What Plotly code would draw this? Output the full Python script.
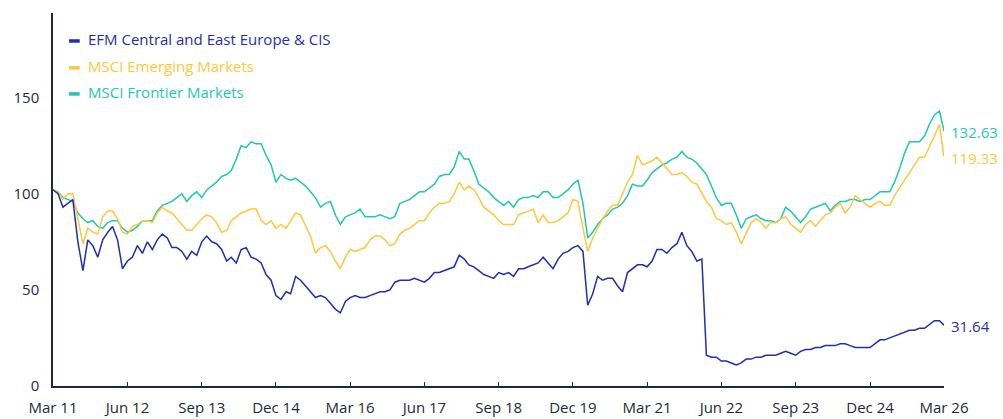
import pandas as pd
import plotly.graph_objects as go

start = "2011-03-01"
n_months = 181
dates = pd.date_range(start, periods=n_months, freq="MS")

efm = [102, 100, 93, 95, 97, 75, 60, 76, 73, 67, 76, 80, 83, 76, 61, 65, 67, 73, 69, 75,
       71, 76, 79, 77, 72, 72, 70, 66, 70, 68, 75, 78, 75, 74, 71, 65, 67, 64, 71, 72,
       67, 66, 64, 58, 55, 47, 45, 49, 48, 57, 55, 52, 49, 46, 47, 46, 43, 40, 38, 44,
       46, 47, 46, 46, 47, 48, 49, 49, 50, 54, 55, 55, 55, 56, 55, 54, 56, 59, 59, 60,
       61, 62, 68, 66, 63, 62, 60, 58, 57, 56, 59, 58, 59, 57, 61, 61, 62, 63, 64, 67,
       64, 61, 66, 69, 70, 72, 73, 70, 42, 48, 57, 55, 56, 56, 52, 49, 59, 61, 63, 63,
       62, 65, 71, 71, 69, 72, 74, 80, 73, 70, 65, 66, 16, 15, 15, 13, 13, 12, 11, 12,
       14, 14, 15, 15, 16, 16, 16, 17, 18, 17, 16, 18, 19, 19, 20, 20, 21, 21, 21, 22,
       22, 21, 20, 20, 20, 20, 22, 24, 24, 25, 26, 27, 28, 29, 29, 30, 30, 32, 34, 34,
       31.64]

msci_em = [102, 101, 97, 100, 100, 86, 74, 82, 80, 79, 88, 91, 91, 87, 80, 79, 83, 84, 86, 86,
           85, 90, 93, 91, 90, 87, 84, 81, 81, 84, 87, 89, 88, 85, 80, 81, 86, 88, 90, 91,
           92, 92, 86, 84, 86, 82, 84, 82, 86, 90, 89, 83, 78, 69, 72, 73, 70, 65, 61, 67,
           71, 70, 71, 72, 76, 78, 78, 76, 73, 74, 79, 81, 82, 84, 86, 86, 90, 93, 95, 95,
           96, 100, 106, 102, 104, 102, 98, 93, 91, 89, 86, 84, 84, 84, 89, 90, 91, 92, 85, 89,
           85, 85, 86, 88, 90, 97, 96, 82, 70, 77, 82, 87, 91, 94, 94, 100, 106, 110, 120, 115,
           116, 117, 119, 116, 113, 110, 110, 111, 109, 106, 105, 100, 96, 93, 87, 86, 84, 85, 80, 74,
           80, 85, 87, 85, 82, 85, 85, 87, 88, 84, 82, 80, 84, 86, 83, 86, 89, 90, 93, 95,
           90, 93, 99, 97, 95, 93, 95, 96, 94, 94, 99, 103, 107, 111, 115, 119, 119, 124, 130, 136,
           119.33]

msci_fm = [102, 101, 98, 97, 96, 90, 87, 85, 86, 83, 82, 85, 86, 86, 82, 80, 81, 83, 86, 86,
           86, 91, 94, 95, 96, 98, 100, 96, 99, 101, 98, 102, 104, 106, 109, 110, 112, 118, 125, 124,
           127, 126, 126, 120, 115, 106, 110, 108, 107, 108, 106, 104, 101, 98, 93, 95, 96, 89, 84, 88,
           89, 90, 92, 88, 88, 88, 89, 88, 87, 88, 95, 96, 97, 99, 101, 101, 103, 105, 109, 110,
           110, 114, 122, 118, 118, 112, 105, 103, 101, 98, 96, 94, 96, 93, 97, 98, 98, 99, 98, 101,
           101, 98, 98, 100, 102, 105, 107, 95, 77, 80, 84, 87, 89, 92, 93, 95, 99, 105, 104, 104,
           107, 111, 113, 115, 116, 118, 119, 122, 119, 118, 116, 113, 110, 104, 98, 94, 95, 95, 89, 82,
           87, 88, 89, 87, 86, 86, 85, 87, 93, 91, 88, 85, 88, 92, 93, 94, 95, 91, 94, 96,
           96, 97, 97, 96, 97, 97, 99, 101, 101, 101, 106, 113, 121, 127, 127, 127, 130, 136, 141, 143,
           132.63]

series_names = ["EFM Central and East Europe & CIS", "MSCI Emerging Markets", "MSCI Frontier Markets"]
series_values = [efm, msci_em, msci_fm]
series_colors = ["#1f2fae", "#ffc73a", "#1fc8b3"]
end_labels = ["31.64", "119.33", "132.63"]

tick_vals = pd.date_range(start, periods=13, freq="15MS")
tick_text = [d.strftime("%b %y") for d in tick_vals]
y_ticks = [0, 50, 100, 150]

axis_color = "#1b2a3a"
font_family = "Open Sans"

fig = go.Figure()
# draw order: teal, yellow, blue on top
for i in [2, 1, 0]:
    fig.add_trace(go.Scatter(
        x=dates, y=series_values[i], mode="lines", name=series_names[i],
        line=dict(color=series_colors[i], width=1.5), showlegend=False,
    ))

annotations = []
shapes = []
legend_y = [0.929, 0.857, 0.787]
for i in range(3):
    annotations.append(dict(
        xref="paper", yref="paper", x=0.037, y=legend_y[i], xanchor="left", yanchor="middle",
        text=series_names[i], showarrow=False,
        font=dict(family=font_family, size=15, color=series_colors[i]),
    ))
    shapes.append(dict(
        type="line", xref="paper", yref="paper", x0=0.018, x1=0.030,
        y0=legend_y[i] - 0.004, y1=legend_y[i] - 0.004,
        line=dict(color=series_colors[i], width=3.5),
    ))
    annotations.append(dict(
        xref="paper", yref="y", x=1, y=series_values[i][-1], xanchor="left", yanchor="middle",
        xshift=5, yshift=-1,
        text=end_labels[i], showarrow=False,
        font=dict(family=font_family, size=15, color=series_colors[i]),
    ))

fig.update_layout(
    width=1003, height=419,
    margin=dict(l=53, r=59, t=13, b=33, autoexpand=False),
    paper_bgcolor="white", plot_bgcolor="white",
    font=dict(family=font_family, size=15, color=axis_color),
    annotations=annotations, shapes=shapes,
    showlegend=False,
)
fig.update_xaxes(
    range=[dates[0], dates[-1]], tickvals=tick_vals, ticktext=tick_text,
    showgrid=False, zeroline=False, showline=True, linecolor=axis_color, linewidth=1.5,
    ticks="inside", ticklen=4, tickcolor=axis_color, tickwidth=1.2,
    ticklabelstandoff=7, automargin=False,
    tickfont=dict(family=font_family, size=15, color=axis_color),
)
fig.update_yaxes(
    range=[0, 194], tickvals=y_ticks,
    showgrid=False, zeroline=False, showline=True, linecolor=axis_color, linewidth=1.5,
    ticks="", ticklabelstandoff=9, automargin=False,
    tickfont=dict(family=font_family, size=15, color=axis_color),
)

fig.write_html("out.html", config={"displayModeBar": False},
               post_script="document.body.style.margin='0';")
